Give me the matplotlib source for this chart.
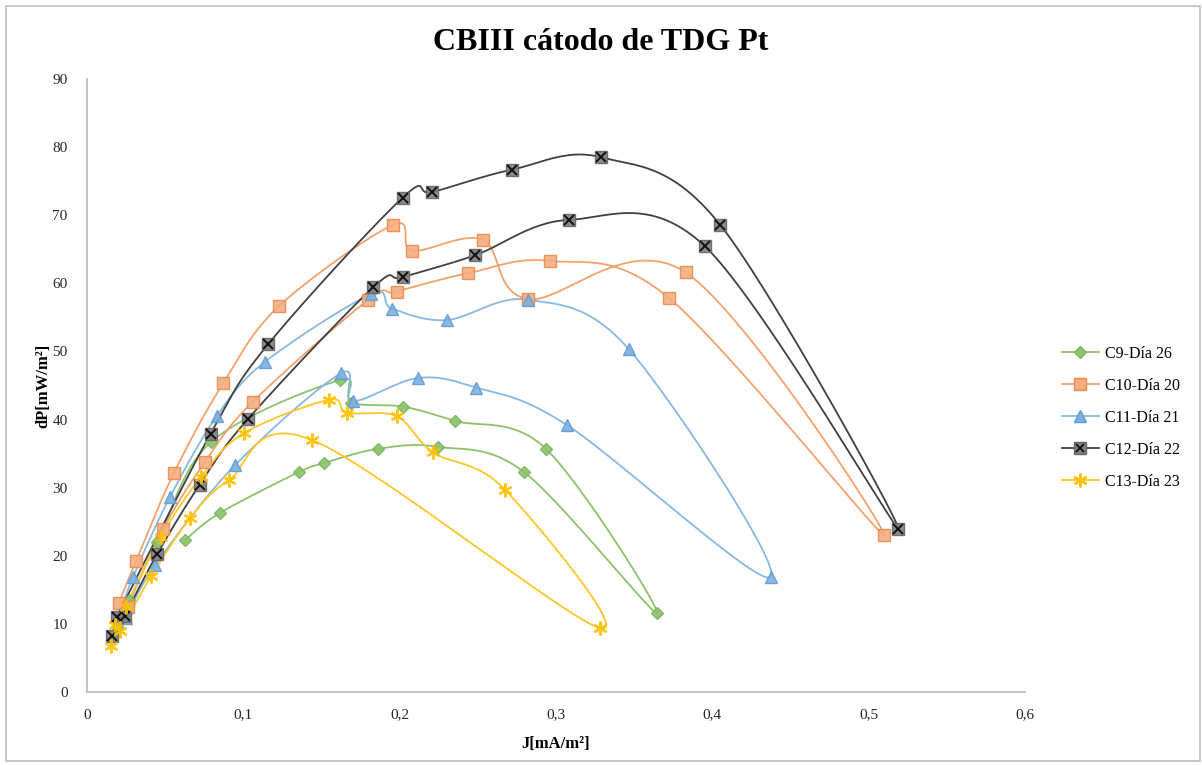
import numpy as np
import matplotlib
matplotlib.use("Agg")
import matplotlib.pyplot as plt
from matplotlib.lines import Line2D
from matplotlib.legend_handler import HandlerTuple

# ---------------- data ----------------
c9_x = [0.019, 0.027, 0.045, 0.0793, 0.1618, 0.169, 0.2022, 0.2354, 0.2936, 0.3646,
        0.2795, 0.2245, 0.186, 0.1516, 0.1356, 0.0851, 0.0627]
c9_y = [9.5, 13.5, 22.0, 36.7, 45.8, 42.5, 41.9, 39.8, 35.7, 11.6,
        32.3, 36.0, 35.7, 33.6, 32.3, 26.3, 22.3]

c10_x = [0.0205, 0.0313, 0.0557, 0.087, 0.123, 0.196, 0.208, 0.253, 0.282, 0.383, 0.510,
         0.372, 0.296, 0.244, 0.198, 0.180, 0.106, 0.0755, 0.0486, 0.026]
c10_y = [13.1, 19.2, 32.2, 45.3, 56.7, 68.6, 64.8, 66.4, 57.7, 61.6, 23.0,
         57.9, 63.3, 61.5, 58.8, 57.6, 42.6, 33.8, 23.9, 12.5]

c11_x = [0.021, 0.0295, 0.053, 0.083, 0.114, 0.1817, 0.195, 0.230, 0.282, 0.3467, 0.4375,
         0.307, 0.2488, 0.2117, 0.170, 0.1625, 0.0947, 0.0435, 0.025]
c11_y = [11.5, 16.9, 28.6, 40.5, 48.5, 58.4, 56.3, 54.6, 57.6, 50.3, 16.9,
         39.2, 44.7, 46.1, 42.7, 46.8, 33.3, 18.6, 10.8]

c12_x = [0.019, 0.079, 0.116, 0.202, 0.221, 0.272, 0.329, 0.405, 0.519,
         0.395, 0.308, 0.248, 0.202, 0.183, 0.103, 0.072, 0.045, 0.024, 0.016]
c12_y = [11.0, 37.9, 51.1, 72.6, 73.4, 76.7, 78.5, 68.6, 24.0,
         65.5, 69.3, 64.1, 60.9, 59.4, 40.1, 30.4, 20.3, 11.2, 8.2]

c13_x = [0.0153, 0.025, 0.0473, 0.073, 0.1004, 0.1548, 0.1663, 0.198, 0.2213, 0.2674, 0.328,
         0.1439, 0.0908, 0.0659, 0.041, 0.021, 0.018]
c13_y = [6.8, 12.5, 22.8, 31.6, 38.0, 42.9, 41.0, 40.5, 35.2, 29.7, 9.4,
         37.0, 31.1, 25.5, 17.0, 9.0, 9.8]

series_names = ["C9-Día 26", "C10-Día 20", "C11-Día 21", "C12-Día 22", "C13-Día 23"]
x_ticks = [0, 0.1, 0.2, 0.3, 0.4, 0.5, 0.6]
x_tick_labels = ["0", "0,1", "0,2", "0,3", "0,4", "0,5", "0,6"]
y_ticks = [0, 10, 20, 30, 40, 50, 60, 70, 80, 90]

# ---------------- figure ----------------
W, H = 1202, 765
fig = plt.figure(figsize=(W / 100, H / 100), dpi=100)
ax = fig.add_axes([87 / W, 1 - 692 / H, (1025 - 87) / W, (692 - 79) / H])
ax.set_xlim(0, 0.6)
ax.set_ylim(0, 90)

serif = "Liberation Serif"


def smooth(xs, ys, n=30):
    """Excel-like smoothed line (Catmull-Rom Bezier in display space)."""
    pts = ax.transData.transform(np.column_stack([xs, ys]))
    out = [pts[0]]
    m = len(pts)
    for i in range(m - 1):
        p0 = pts[i - 1] if i > 0 else pts[i]
        p1 = pts[i]
        p2 = pts[i + 1]
        p3 = pts[i + 2] if i + 2 < m else pts[i + 1]
        c1 = p1 + (p2 - p0) / 6.0
        c2 = p2 - (p3 - p1) / 6.0
        t = np.linspace(0, 1, n)[1:, None]
        seg = ((1 - t) ** 3) * p1 + 3 * ((1 - t) ** 2) * t * c1 + 3 * (1 - t) * t ** 2 * c2 + t ** 3 * p2
        out.extend(seg)
    out = np.array(out)
    d = ax.transData.inverted().transform(out)
    return d[:, 0], d[:, 1]


styles = [
    dict(x=c9_x, y=c9_y, lc="#8CC26C", marker="D", ms=6, mfc="#8CC26C", mec="#7DB55C"),
    dict(x=c10_x, y=c10_y, lc="#F4A26B", marker="s", ms=8, mfc="#F4AE82", mec="#EE8A4E"),
    dict(x=c11_x, y=c11_y, lc="#88B8E4", marker="^", ms=8.5, mfc="#7EB0E0", mec="#5E9CD6"),
    dict(x=c12_x, y=c12_y, lc="#404040", marker="s", ms=8, mfc="#7F7F7F", mec="#666666"),
    dict(x=c13_x, y=c13_y, lc="#FFC629", marker=(6, 2, 0), ms=10, mfc="#FFC000", mec="#FFC000"),
]

handles = []
for i, (st, name) in enumerate(zip(styles, series_names)):
    sx, sy = smooth(st["x"], st["y"])
    ax.plot(sx, sy, color=st["lc"], lw=1.3, zorder=2 + i * 0.1, solid_capstyle="round")
    ax.plot(st["x"], st["y"], ls="none", marker=st["marker"], ms=st["ms"],
            mfc=st["mfc"], mec=st["mec"], mew=1.6 if i == 4 else 1.0,
            alpha=0.9, zorder=3 + i * 0.1)
    h_line = Line2D([], [], color=st["lc"], lw=1.3, marker=st["marker"], ms=st["ms"] * 1.0,
                    mfc=st["mfc"], mec=st["mec"], mew=1.6 if i == 4 else 1.0)
    if i == 3:
        ax.plot(st["x"], st["y"], ls="none", marker="x", ms=6.5, mec="#111111", mew=1.4,
                zorder=3.35)
        hx = Line2D([], [], ls="none", marker="x", ms=6, mec="#111111", mew=1.3)
        handles.append((h_line, hx))
    else:
        handles.append(h_line)

# axes styling
for s in ["top", "right"]:
    ax.spines[s].set_visible(False)
for s in ["left", "bottom"]:
    ax.spines[s].set_color("#BFBFBF")
    ax.spines[s].set_linewidth(1.3)
ax.set_xticks(x_ticks)
ax.set_xticklabels(x_tick_labels)
ax.set_yticks(y_ticks)
ax.tick_params(length=0, labelsize=11, pad=12)
for lab in ax.get_xticklabels() + ax.get_yticklabels():
    lab.set_family(serif)
    lab.set_color("#262626")
ax.tick_params(axis="y", pad=14)

ax.set_xlabel("J[mA/m²]", fontsize=12, fontweight="bold", family=serif, labelpad=10)
ax.set_ylabel("dP[mW/m²]", fontsize=12, fontweight="bold", family=serif, labelpad=1)

fig.text(0.5, 1 - 42 / H, "CBIII cátodo de TDG Pt", ha="center", va="center",
         fontsize=23, fontweight="bold", family=serif)

fig.legend(handles, series_names, loc="center left", bbox_to_anchor=(1062 / W, 1 - 418 / H),
           frameon=False, prop={"family": serif, "size": 11.5}, handlelength=2.3,
           labelspacing=1.0, handletextpad=0.4, borderpad=0, borderaxespad=0,
           handler_map={tuple: HandlerTuple(ndivide=1)})

# chart border
fig.patches.append(plt.Rectangle((6 / W, 0.005), 1 - 8 / W, 1 - 0.005 - 6 / H, transform=fig.transFigure,
                                 fill=False, ec="#BFBFBF", lw=1.2))

fig.savefig("out.png", dpi=100)
